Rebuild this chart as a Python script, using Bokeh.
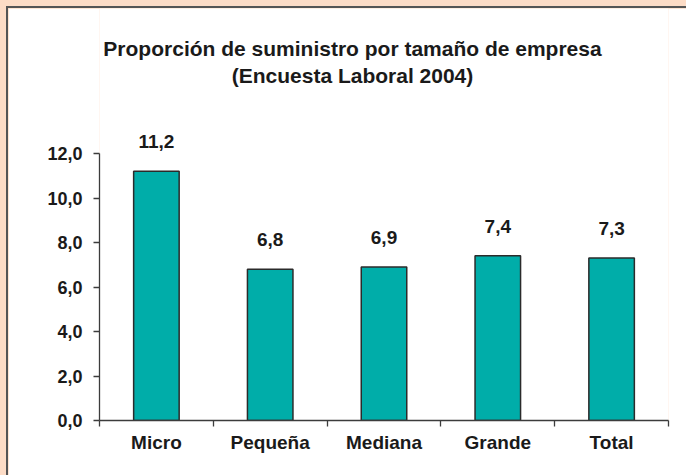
from bokeh.plotting import figure
from bokeh.models import (ColumnDataSource, Range1d, FixedTicker, Label,
                          LabelSet, GlobalInlineStyleSheet)
from bokeh.core.properties import value
from bokeh.embed import file_html
from bokeh.resources import INLINE

categories = ["Micro", "Pequeña", "Mediana", "Grande", "Total"]
values = [11.2, 6.8, 6.9, 7.4, 7.3]
value_labels = ["11,2", "6,8", "6,9", "7,4", "7,3"]
y_ticks = [0, 2, 4, 6, 8, 10, 12]
y_tick_labels = ["0,0", "2,0", "4,0", "6,0", "8,0", "10,0", "12,0"]
title_lines = ["Proporción de suministro por tamaño de empresa",
               "(Encuesta Laboral 2004)"]

FONT = "Liberation Sans"
TXT = "#1a1a1a"
AX = "#3c3c3c"

x_pos = [i + 0.5 for i in range(len(categories))]
src = ColumnDataSource(dict(x=x_pos, top=values, lab=value_labels))

# frame spans from canvas top to the x axis; the y axis itself is bounded to 0..12
FRAME_H = 412          # px from canvas top to x axis
AXIS_H = 267           # px covered by 0..12
y_end = 12 * FRAME_H / AXIS_H

W, H = 690, 480
p = figure(width=W, height=H, output_backend="svg", toolbar_location=None,
           x_range=Range1d(0, len(categories)), y_range=Range1d(0, y_end),
           min_border_left=91, min_border_right=W - 660, min_border_top=0,
           min_border_bottom=H - FRAME_H)
p.stylesheets = [GlobalInlineStyleSheet(
    css="html, body { overflow: hidden; } "
        "body { background: #FDDCC6; margin: 6px 0 0 6px; }")]
p.styles = {"border-left": "2px solid #555555", "border-top": "2px solid #555555"}
p.background_fill_color = "white"
p.border_fill_color = "white"
p.outline_line_color = None
p.xgrid.visible = False
p.ygrid.visible = False

p.vbar(x="x", top="top", bottom=0, width=0.4, source=src,
       fill_color="#00ADA9", line_color="#2b2b2b", line_width=1.5)
p.add_layout(LabelSet(x="x", y="top", text="lab", source=src, y_offset=23,
                      text_align="center", text_baseline="alphabetic",
                      text_font=value(FONT), text_font_size=value("19px"),
                      text_font_style=value("bold"), text_color=value(TXT)))

# y axis
p.yaxis.ticker = FixedTicker(ticks=y_ticks)
p.yaxis.bounds = (0, 12)
p.yaxis.major_label_overrides = {t: l for t, l in zip(y_ticks, y_tick_labels)}
p.yaxis.major_tick_in = 0
p.yaxis.major_tick_out = 6
p.yaxis.major_label_standoff = 11

# x axis: labels at centres, ticks at boundaries
p.xaxis.ticker = FixedTicker(ticks=x_pos,
                             minor_ticks=list(range(len(categories) + 1)))
p.xaxis.major_label_overrides = {x: c for x, c in zip(x_pos, categories)}
p.xaxis.minor_tick_in = 0
p.xaxis.minor_tick_out = 6
p.xaxis.major_label_standoff = 5

for ax in (p.xaxis, p.yaxis):
    ax.axis_line_color = AX
    ax.axis_line_width = 1.3
    ax.major_tick_line_width = 1.3
    ax.minor_tick_line_width = 1.3
    ax.major_label_text_font = FONT
    ax.major_label_text_font_style = "bold"
    ax.major_label_text_color = TXT
p.yaxis.major_tick_line_color = AX
p.yaxis.minor_tick_line_color = None
p.xaxis.major_tick_line_color = None
p.xaxis.minor_tick_line_color = AX
p.yaxis.major_label_text_font_size = "18px"
p.xaxis.major_label_text_font_size = "19px"

# title lines, placed in screen px relative to the plot frame
for txt, yy in zip(title_lines, [372, 345]):
    p.add_layout(Label(x=253, y=yy, x_units="screen", y_units="screen",
                       text=txt, text_align="center",
                       text_baseline="alphabetic", text_font=FONT,
                       text_font_size="21px", text_font_style="bold",
                       text_color=TXT))

open("out.html", "w").write(file_html(p, INLINE))
